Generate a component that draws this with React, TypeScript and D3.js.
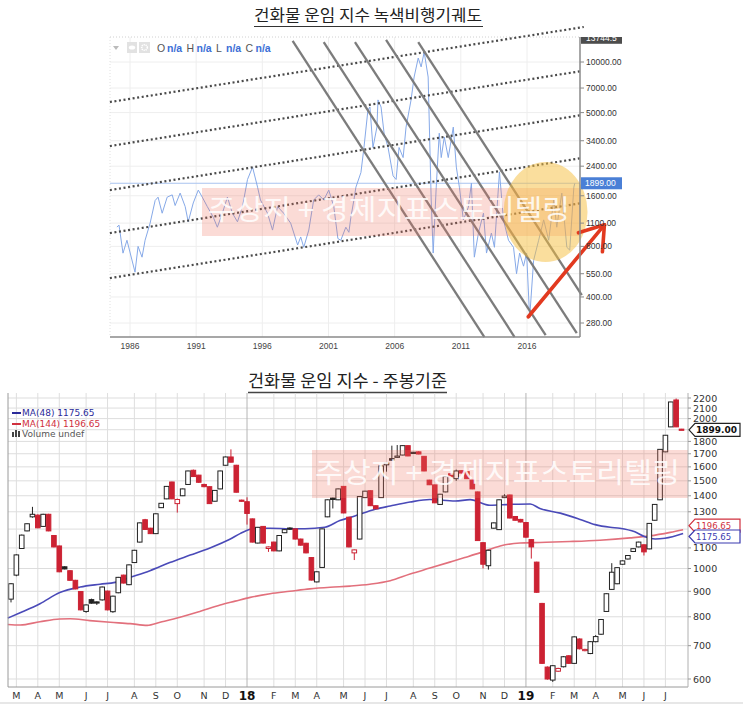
import React from "react";
import * as d3 from "d3";

const W = 743;
const H = 707;

// ---------- top chart: long-term dry bulk index (log scale) ----------
const bdiSeries: [number, number][] = [
  [1985.01, 1042], [1985.17, 1070], [1985.47, 729], [1985.77, 870], [1986.38, 562],
  [1986.61, 800], [1986.91, 690], [1987.14, 870], [1987.52, 1100], [1987.9, 1500],
  [1988.12, 1570], [1988.43, 1260], [1988.81, 1570], [1989.19, 1620], [1989.41, 1400],
  [1989.79, 1660], [1990.17, 1380], [1990.4, 1120], [1990.78, 1450], [1991.16, 1730],
  [1991.46, 1570], [1991.84, 1380], [1992.3, 1190], [1992.6, 1040], [1992.98, 1260],
  [1993.36, 1570], [1993.74, 1260], [1994.12, 1120], [1994.5, 1380], [1994.88, 2000],
  [1995.26, 2370], [1995.64, 1800], [1995.86, 1510], [1996.39, 1260], [1996.77, 1000],
  [1997.15, 1380], [1997.61, 1260], [1998.14, 1100], [1998.67, 815], [1998.9, 910],
  [1999.13, 790], [1999.51, 1000], [1999.88, 1510], [2000.26, 1620], [2000.64, 1510],
  [2001.02, 1730], [2001.4, 1380], [2001.71, 890], [2001.93, 870], [2002.31, 1040],
  [2002.54, 970], [2002.69, 1190], [2002.92, 1510], [2003.07, 1800], [2003.45, 2200],
  [2003.68, 3100], [2003.98, 5180], [2004.13, 5400], [2004.36, 3100], [2004.66, 4100],
  [2004.74, 5950], [2004.97, 5400], [2005.2, 3770], [2005.5, 3100], [2005.88, 2100],
  [2006.11, 2000], [2006.33, 3100], [2006.64, 2700], [2006.86, 4100], [2007.24, 5950],
  [2007.47, 8140], [2007.78, 10560], [2008.0, 9350], [2008.23, 11460], [2008.53, 8140],
  [2008.76, 1510], [2008.91, 730], [2009.14, 1800], [2009.37, 3770], [2009.52, 2700],
  [2009.75, 3580], [2010.05, 2700], [2010.43, 4100], [2010.66, 2370], [2010.89, 1800],
  [2011.19, 1150], [2011.57, 1370], [2011.8, 1900], [2012.02, 690], [2012.33, 960],
  [2012.71, 1260], [2012.94, 730], [2013.31, 960], [2013.54, 790], [2013.92, 2220],
  [2014.22, 1150], [2014.6, 870], [2014.98, 790], [2015.21, 550], [2015.44, 730],
  [2015.74, 610], [2015.97, 730], [2016.2, 300], [2016.5, 660], [2016.88, 870],
  [2017.26, 1150], [2017.64, 870], [2018.02, 1510], [2018.25, 1040], [2018.63, 1660],
  [2019.01, 790], [2019.23, 760], [2019.54, 1800], [2019.61, 1899],
];
const topTicks = [10000, 7000, 5000, 3400, 2400, 1600, 1100, 800, 550, 400, 280];
const topYears = [1986, 1991, 1996, 2001, 2006, 2011, 2016];
const topLast = 1899;
const topMax = 13744.5;

// rising dotted channel (year, value)
const channelLines: [number, number][][] = [
  [[1984.48, 5780], [2020.29, 16160]],
  [[1984.48, 3162], [2020.14, 8840]],
  [[1984.48, 1730], [2020.14, 4836]],
  [[1984.48, 960], [2020.14, 2683]],
  [[1984.48, 518], [2020.14, 1448]],
];
// falling solid lines
const fallLines: [number, number][][] = [
  [[1998.29, 13335], [2012.78, 231]],
  [[2000.64, 13150], [2015.06, 231]],
  [[2003.0, 13150], [2017.41, 237]],
  [[2005.35, 13520], [2019.76, 244]],
  [[2007.78, 13150], [2020.14, 410]],
];
const arrowFrom: [number, number] = [2016.1, 305];
const arrowTo: [number, number] = [2021.85, 1075];
const circleAt: [number, number] = [2017.4, 1280];

// ---------- bottom chart: weekly candles [open, high, low, close] ----------
const weeklyOHLC: [number, number, number, number][] = [
  [868, 935, 855, 932], [970, 1068, 965, 1065], [1097, 1170, 1095, 1167], [1190, 1232, 1188, 1230],
  [1270, 1330, 1265, 1285], [1280, 1285, 1205, 1207], [1215, 1288, 1212, 1285], [1285, 1288, 1188, 1190],
  [1165, 1167, 1103, 1105], [1110, 1112, 983, 985], [1008, 1010, 996, 998], [990, 992, 945, 947],
  [947, 949, 908, 910], [899, 901, 824, 826], [820, 847, 815, 845], [866, 870, 850, 852],
  [857, 859, 845, 855], [865, 920, 862, 918], [901, 903, 824, 826], [819, 882, 815, 880],
  [894, 962, 892, 960], [970, 972, 933, 935], [928, 1019, 926, 1017], [1028, 1090, 1026, 1088],
  [1130, 1237, 1128, 1235], [1253, 1258, 1196, 1198], [1205, 1207, 1173, 1175], [1175, 1290, 1173, 1288],
  [1325, 1354, 1323, 1352], [1380, 1464, 1378, 1462], [1492, 1494, 1378, 1380], [1350, 1382, 1295, 1376],
  [1400, 1447, 1398, 1445], [1475, 1572, 1473, 1570], [1575, 1580, 1528, 1530], [1540, 1542, 1486, 1490],
  [1475, 1480, 1456, 1460], [1460, 1462, 1348, 1350], [1365, 1437, 1363, 1435], [1445, 1572, 1443, 1570],
  [1612, 1678, 1610, 1675], [1675, 1735, 1633, 1635], [1612, 1615, 1421, 1423], [1372, 1375, 1362, 1365],
  [1362, 1390, 1225, 1290], [1258, 1260, 1128, 1130], [1125, 1212, 1123, 1210], [1215, 1217, 1123, 1125],
  [1097, 1107, 1080, 1105], [1130, 1132, 1083, 1085], [1085, 1167, 1083, 1165], [1180, 1199, 1178, 1197],
  [1206, 1210, 1196, 1200], [1201, 1203, 1144, 1146], [1146, 1148, 1112, 1114], [1124, 1126, 1073, 1075],
  [1052, 1054, 946, 948], [940, 987, 938, 985], [1005, 1203, 1003, 1201], [1270, 1376, 1268, 1374],
  [1385, 1388, 1320, 1376], [1374, 1447, 1372, 1445], [1462, 1464, 1291, 1293], [1268, 1270, 1103, 1105],
  [1075, 1092, 1040, 1090], [1146, 1397, 1144, 1395], [1388, 1432, 1386, 1430], [1433, 1435, 1335, 1337],
  [1337, 1339, 1316, 1318], [1388, 1609, 1386, 1607], [1615, 1632, 1565, 1628], [1662, 1765, 1645, 1650],
  [1672, 1770, 1668, 1682], [1690, 1767, 1688, 1765], [1765, 1767, 1681, 1683], [1712, 1714, 1700, 1702],
  [1715, 1720, 1696, 1698], [1680, 1682, 1568, 1570], [1505, 1507, 1471, 1473], [1472, 1474, 1353, 1355],
  [1345, 1412, 1343, 1410], [1425, 1532, 1423, 1530], [1550, 1552, 1526, 1528], [1515, 1580, 1500, 1570],
  [1572, 1574, 1553, 1555], [1565, 1567, 1513, 1515], [1505, 1507, 1443, 1445], [1425, 1427, 1136, 1138],
  [1127, 1129, 1000, 1020], [1013, 1090, 995, 1088], [1205, 1237, 1203, 1235], [1197, 1376, 1195, 1374],
  [1388, 1410, 1386, 1398], [1405, 1407, 1261, 1263], [1272, 1274, 1248, 1250], [1255, 1258, 1238, 1240],
  [1237, 1239, 1154, 1156], [1143, 1145, 1047, 1105], [1030, 1032, 894, 896], [851, 853, 643, 645],
  [634, 636, 598, 600], [597, 640, 592, 638], [622, 632, 620, 630], [635, 667, 633, 665],
  [668, 670, 643, 645], [645, 731, 643, 729], [722, 724, 688, 690], [684, 690, 682, 688],
  [675, 715, 673, 713], [713, 735, 711, 730], [738, 792, 736, 790], [820, 892, 818, 890],
  [908, 1025, 906, 983], [932, 1006, 930, 1004], [1020, 1038, 1018, 1036], [1045, 1064, 1043, 1062],
  [1082, 1098, 1080, 1096], [1105, 1132, 1103, 1130], [1116, 1118, 1062, 1080], [1095, 1234, 1093, 1232],
  [1250, 1347, 1248, 1345], [1374, 1737, 1372, 1735], [1715, 1854, 1713, 1852], [1925, 2162, 1923, 2160],
  [2180, 2195, 1923, 1925], [1905, 1907, 1897, 1899],
];

// moving averages: [week index, value]
const ma48: [number, number][] = [
  [-0.6, 795], [1.7, 815], [5.4, 850], [9.1, 895], [12.9, 918], [16.6, 930], [19.4, 938],
  [22.2, 960], [25.9, 990], [29.6, 1028], [33.4, 1064], [37.1, 1100], [40.8, 1145],
  [42.7, 1175], [45.5, 1205], [48.3, 1205], [52.0, 1202], [54.8, 1202], [58.5, 1210],
  [61.3, 1248], [64.1, 1275], [67.9, 1315], [70.7, 1335], [74.4, 1360], [78.1, 1376],
  [82.8, 1366], [85.6, 1375], [89.3, 1340], [93.0, 1345], [96.8, 1348], [98.6, 1320],
  [102.4, 1292], [106.1, 1255], [108.9, 1225], [111.7, 1210], [113.5, 1205], [116.3, 1185],
  [118.2, 1158], [120.1, 1146], [121.9, 1150], [125.3, 1175.65],
];
const ma144: [number, number][] = [
  [-0.6, 772], [1.7, 770], [5.4, 782], [9.1, 792], [11.0, 793], [14.7, 786], [18.5, 780],
  [22.2, 775], [25.4, 769], [27.8, 780], [31.5, 798], [35.2, 820], [39.0, 845], [41.8, 860],
  [44.6, 875], [48.3, 890], [52.0, 900], [55.7, 910], [59.5, 917], [63.2, 922], [66.9, 930],
  [70.7, 945], [74.4, 975], [78.1, 1002], [81.8, 1030], [84.6, 1052], [87.4, 1075],
  [91.2, 1110], [94.9, 1125], [98.6, 1128], [104.2, 1133], [109.8, 1140], [115.4, 1152],
  [119.1, 1163], [122.9, 1182], [125.3, 1196.65],
];
const ma48Last = 1175.65;
const ma144Last = 1196.65;
const botLast = 1899;

const botGrid = [600, 700, 800, 900, 1000, 1100, 1200, 1300, 1400, 1500, 1600, 1700, 1800, 1900, 2000, 2100, 2200];
const botTickLabels = [600, 700, 800, 900, 1000, 1100, 1300, 1400, 1500, 1600, 1700, 1800, 2000, 2100, 2200];
const monthTicks: [number, string][] = [
  [1, "M"], [5, "A"], [9, "M"], [14, "J"], [18, "J"], [23, "A"], [27, "S"], [31, "O"], [36, "N"], [40, "D"],
  [44, "18"], [49, "F"], [53, "M"], [57, "A"], [62, "M"], [66, "J"], [70, "J"], [75, "A"], [79, "S"],
  [83, "O"], [88, "N"], [92, "D"], [96, "19"], [101, "F"], [105, "M"], [109, "A"], [114, "M"], [118, "J"], [122, "J"],
];

const topTitle = "건화물 운임 지수 녹색비행기궤도";
const botTitle = "건화물 운임 지수 - 주봉기준";
const watermark = "주상지 + 경제지표스토리텔링";

const latin = "'Liberation Sans', Arial, sans-serif";
const verd = "'DejaVu Sans', Verdana, sans-serif";
const kr = "'Noto Sans CJK KR', 'Noto Sans', sans-serif";

const TP = { l: 110, r: 580, t: 37, b: 337 };
const BP = { l: 8, r: 688, t: 393, b: 687 };

const RED = "#cc2233";

export default function App() {
  const xT = d3.scaleLinear().domain([1986, 2016]).range([130, 527]);
  const yT = d3.scaleLog().domain([280, 10000]).range([323, 62]);
  const lineT = d3.line<[number, number]>().x((d) => xT(d[0])).y((d) => yT(d[1]));

  const xB = d3.scaleLinear().domain([0, weeklyOHLC.length - 1]).range([11, 681.5]);
  const yB = d3.scaleLog().domain([600, 2200]).range([679, 398]);
  const lineB = d3.line<[number, number]>().x((d) => xB(d[0])).y((d) => yB(d[1])).curve(d3.curveMonotoneX);

  const legend: [string, boolean][] = [["O", false], ["n/a", true], ["H", false], ["n/a", true], ["L", false], ["n/a", true], ["C", false], ["n/a", true]];
  let lx = 157;

  const tip: [number, number] = [xT(arrowTo[0]), yT(arrowTo[1])];

  const tag = (y: number) =>
    `M${BP.r + 1},${y} L${BP.r + 7},${y - 6.5} L${W - 3},${y - 6.5} L${W - 3},${y + 6.5} L${BP.r + 7},${y + 6.5} Z`;

  // the two moving-average tags sit nearly on top of each other: nudge them apart
  const y144 = yB(ma144Last) - 4;
  const y48 = yB(ma48Last) + 3;

  return (
    <div style={{ position: "fixed", left: 0, top: 0, width: W, height: H, background: "#fff" }}>
      <svg width={W} height={H} viewBox={`0 0 ${W} ${H}`}>
        <defs>
          <clipPath id="topPlot">
            <rect x={TP.l} y={TP.t} width={TP.r - TP.l} height={TP.b - TP.t} />
          </clipPath>
          <clipPath id="topAxis">
            <rect x={TP.r} y={TP.t} width={60} height={TP.b - TP.t + 10} />
          </clipPath>
        </defs>

        {/* ===== top chart ===== */}
        <text x={254} y={21} fontFamily={kr} fontSize={16} fill="#222" textLength={228} lengthAdjust="spacingAndGlyphs">{topTitle}</text>
        <line x1={254} x2={483} y1={26.5} y2={26.5} stroke="#333" strokeWidth={1.2} />

        {topTicks.map((v) => (
          <line key={v} x1={TP.l} x2={TP.r} y1={yT(v)} y2={yT(v)} stroke="#eeeeee" />
        ))}
        {topYears.map((y) => (
          <line key={y} x1={xT(y)} x2={xT(y)} y1={TP.t} y2={TP.b} stroke="#eeeeee" />
        ))}
        <line x1={TP.l} x2={TP.r} y1={TP.t} y2={TP.t} stroke="#d0d0d0" strokeDasharray="1 2" />
        <line x1={TP.l} x2={TP.l} y1={TP.t} y2={TP.b} stroke="#e0e0e0" strokeDasharray="1 2" />

        <g clipPath="url(#topPlot)">
          <line x1={TP.l} x2={TP.r} y1={yT(topLast)} y2={yT(topLast)} stroke="#a9c3ef" strokeWidth={1} />
          <path d={lineT(bdiSeries) || ""} fill="none" stroke="#86a9e8" strokeWidth={1} />
        </g>

        {channelLines.map((l, i) => (
          <path key={i} d={lineT(l) || ""} stroke="#4a4a4a" strokeWidth={2.2} strokeDasharray="2 2.6" fill="none" />
        ))}
        {fallLines.map((l, i) => (
          <path key={i} d={lineT(l) || ""} stroke="#7c7c7c" strokeWidth={2.3} fill="none" />
        ))}

        {/* legend */}
        <path d="M113,46 L119,46 L116,50 Z" fill="#bbb" />
        <rect x={127} y={42} width={10} height={11} fill="#e2e2e2" />
        <ellipse cx={132} cy={47.5} rx={3.2} ry={2} fill="#fff" />
        <rect x={139} y={42} width={11} height={11} fill="#e2e2e2" />
        <circle cx={144.5} cy={47.5} r={2.8} fill="none" stroke="#fff" strokeWidth={1.6} strokeDasharray="1.2 0.8" />
        {legend.map(([t, b], i) => {
          const x = lx;
          lx += b ? 19.5 : 10;
          return (
            <text key={i} x={x} y={52} fontFamily={latin} fontSize={10.5} fontWeight={b ? 700 : 400} fill={b ? "#3b6fd6" : "#555"}>{t}</text>
          );
        })}

        {/* watermark + highlights */}
        <rect x={202} y={188} width={TP.r - 202} height={48} fill="rgba(240,110,90,0.25)" />
        <ellipse cx={xT(circleAt[0])} cy={yT(circleAt[1])} rx={42} ry={50} fill="rgba(245,190,60,0.5)" />
        <text x={208} y={220} fontFamily={kr} fontSize={28} fill="#ffffff" fillOpacity={0.85} textLength={362} lengthAdjust="spacingAndGlyphs">{watermark}</text>

        {/* red arrow */}
        <g stroke="#e2391f" strokeWidth={3.6} strokeLinecap="round" fill="none">
          <line x1={xT(arrowFrom[0])} y1={yT(arrowFrom[1])} x2={tip[0]} y2={tip[1]} />
          <line x1={tip[0]} y1={tip[1]} x2={tip[0] - 26} y2={tip[1] + 8} />
          <line x1={tip[0]} y1={tip[1]} x2={tip[0] - 2} y2={tip[1] + 27} />
        </g>

        {/* axes */}
        <line x1={TP.l} x2={TP.r} y1={TP.b} y2={TP.b} stroke="#8a8a8a" strokeWidth={1.5} />
        <line x1={TP.r} x2={TP.r} y1={TP.t} y2={TP.b} stroke="#8a8a8a" strokeWidth={1.5} />
        {topYears.map((y) => (
          <text key={y} x={xT(y)} y={349} textAnchor="middle" fontFamily={latin} fontSize={8.5} fill="#444">{y}</text>
        ))}
        {topTicks.map((v) => (
          <g key={v}>
            <line x1={TP.r} x2={TP.r + 4} y1={yT(v)} y2={yT(v)} stroke="#8a8a8a" />
            <text x={TP.r + 6} y={yT(v) + 3} fontFamily={latin} fontSize={8.5} fill="#333">{v.toFixed(2)}</text>
          </g>
        ))}
        <g clipPath="url(#topAxis)">
          <rect x={TP.r + 1} y={yT(topMax) - 7} width={41} height={12} fill="#4d4d4d" />
          <text x={TP.r + 6} y={yT(topMax) + 2} fontFamily={latin} fontSize={8.5} fill="#fff">{topMax}</text>
        </g>
        <rect x={TP.r + 1} y={yT(topLast) - 6} width={41} height={12} fill="#4a7fd6" />
        <text x={TP.r + 5} y={yT(topLast) + 3} fontFamily={latin} fontSize={8.5} fill="#fff">{topLast.toFixed(2)}</text>

        {/* ===== bottom chart ===== */}
        <text x={248} y={387} fontFamily={kr} fontSize={17} fill="#222" textLength={199} lengthAdjust="spacingAndGlyphs">{botTitle}</text>
        <line x1={248} x2={447} y1={392.5} y2={392.5} stroke="#444" strokeWidth={1.3} />

        {botGrid.map((v) => (
          <line key={v} x1={BP.l} x2={BP.r} y1={yB(v)} y2={yB(v)} stroke="#dddddd" />
        ))}
        {monthTicks.map(([w, m]) => (
          <line key={w} x1={xB(w)} x2={xB(w)} y1={BP.t} y2={BP.b} stroke={m.length > 1 ? "#b5b5b5" : "#dedede"} />
        ))}

        <path d={lineB(ma144) || ""} fill="none" stroke="#e2707c" strokeWidth={1.6} />
        <path d={lineB(ma48) || ""} fill="none" stroke="#4a4ab8" strokeWidth={1.6} />

        {weeklyOHLC.map(([o, h, l, c], i) => {
          const prev = i > 0 ? weeklyOHLC[i - 1][3] : o;
          const up = c >= o;
          const col = c >= prev ? "#222" : RED;
          const x = xB(i);
          const top = yB(Math.max(o, c));
          const bot = yB(Math.min(o, c));
          return (
            <g key={i}>
              <line x1={x} x2={x} y1={yB(h)} y2={yB(l)} stroke={col} strokeWidth={1} />
              <rect x={x - 2.3} y={top} width={4.6} height={Math.max(1.2, bot - top)} fill={up ? "#fff" : col} stroke={col} strokeWidth={1} />
            </g>
          );
        })}

        {/* watermark */}
        <rect x={312} y={450} width={BP.r - 312} height={48} fill="rgba(240,110,90,0.25)" />
        <text x={315} y={483} fontFamily={kr} fontSize={28} fill="#ffffff" fillOpacity={0.85} textLength={365} lengthAdjust="spacingAndGlyphs">{watermark}</text>

        {/* legend */}
        <line x1={12} x2={21} y1={413} y2={413} stroke="#2b2b9a" strokeWidth={2} />
        <text x={22} y={416} fontFamily={verd} fontSize={9} fill="#2b2b9a">{`MA(48) ${ma48Last}`}</text>
        <line x1={12} x2={21} y1={424} y2={424} stroke="#d0303e" strokeWidth={2} />
        <text x={22} y={427} fontFamily={verd} fontSize={9} fill="#d0303e">{`MA(144) ${ma144Last}`}</text>
        <rect x={12} y={432} width={2} height={5} fill="#444" />
        <rect x={15} y={430} width={2} height={7} fill="#444" />
        <rect x={18} y={431} width={2} height={6} fill="#444" />
        <text x={22} y={437} fontFamily={verd} fontSize={9} fill="#555">Volume undef</text>

        {/* frame + axes */}
        <line x1={BP.l} x2={BP.l} y1={BP.t} y2={BP.b} stroke="#9a9a9a" />
        <line x1={BP.l} x2={BP.r} y1={BP.b} y2={BP.b} stroke="#9a9a9a" />
        <line x1={BP.r} x2={BP.r} y1={BP.t} y2={BP.b} stroke="#b0b0b0" />
        <line x1={0} x2={W} y1={703} y2={703} stroke="#cfcfcf" />
        {monthTicks.map(([w, m]) => (
          <text key={w} x={xB(w)} y={m.length > 1 ? 699.5 : 698.5} textAnchor="middle" fontFamily={verd}
            fontSize={m.length > 1 ? 12 : 9.5} fontWeight={m.length > 1 ? 700 : 400} fill={m.length > 1 ? "#111" : "#333"}>{m}</text>
        ))}
        {botTickLabels.map((v) => (
          <g key={v}>
            <line x1={BP.r} x2={BP.r + 3} y1={yB(v)} y2={yB(v)} stroke="#999" />
            <text x={BP.r + 5} y={yB(v) + 3.5} fontFamily={verd} fontSize={9.5} fill="#333">{v}</text>
          </g>
        ))}
        <path d={tag(y144)} fill="#fff" stroke="#d0303e" strokeWidth={1.2} />
        <text x={BP.r + 8} y={y144 + 3} fontFamily={verd} fontSize={8.5} fill="#d0303e">{ma144Last}</text>
        <path d={tag(y48)} fill="#fff" stroke="#3a3ab0" strokeWidth={1.2} />
        <text x={BP.r + 8} y={y48 + 3.5} fontFamily={verd} fontSize={8.5} fill="#3a3ab0">{ma48Last}</text>
        <path d={tag(yB(botLast))} fill="#fff" stroke="#222" strokeWidth={1.2} />
        <text x={BP.r + 8} y={yB(botLast) + 3.5} fontFamily={verd} fontSize={9} fontWeight={700} fill="#111">{botLast.toFixed(2)}</text>
      </svg>
    </div>
  );
}
